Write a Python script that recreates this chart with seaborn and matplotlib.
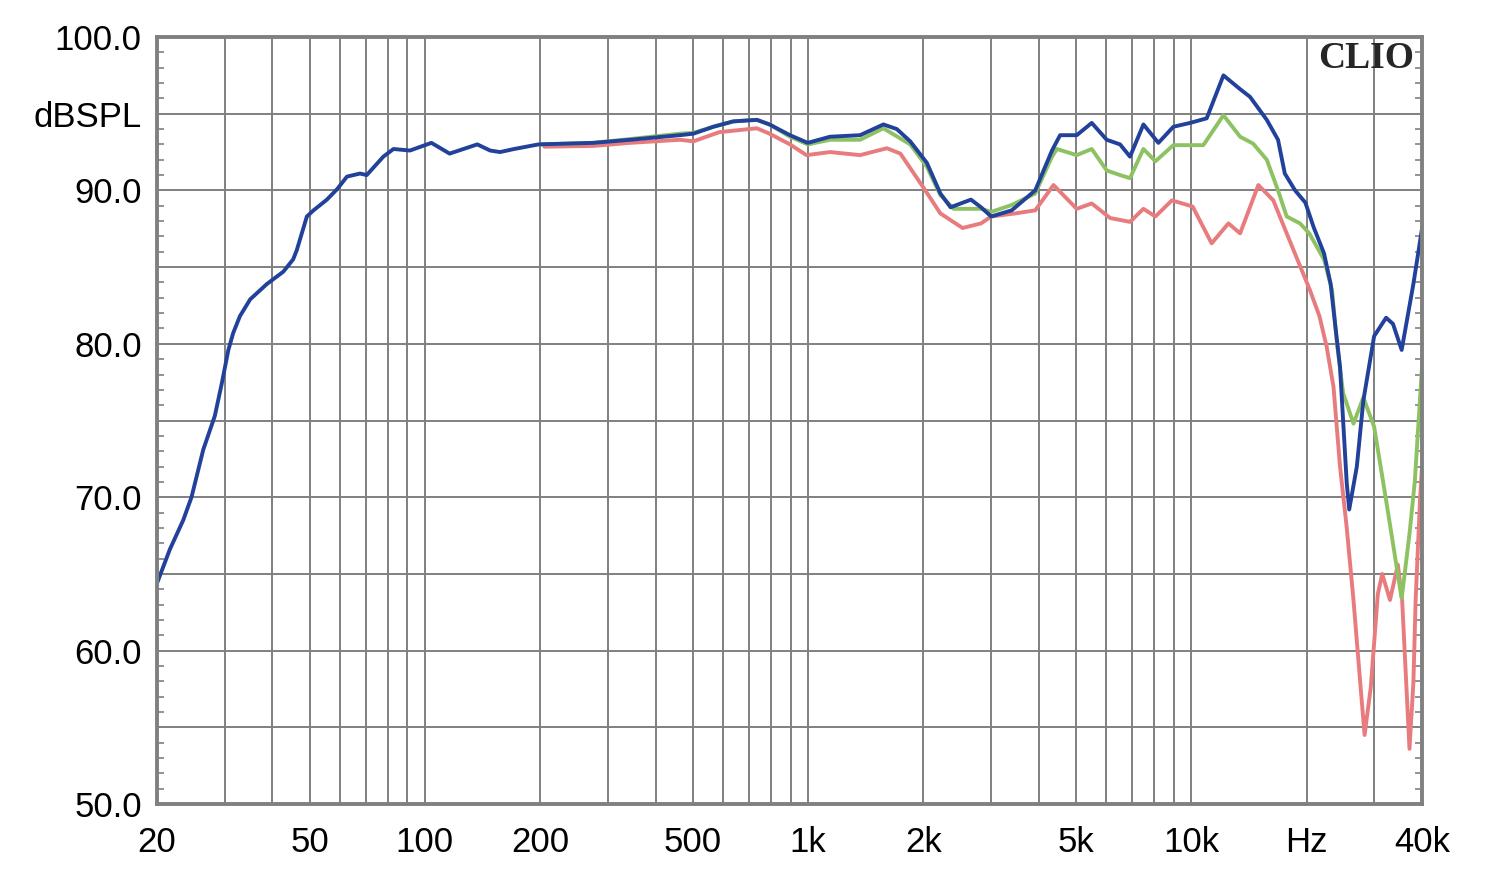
import numpy as np
import pandas as pd
import matplotlib
matplotlib.use("Agg")
import matplotlib.pyplot as plt
import seaborn as sns

# frequency response readings (Hz, dB SPL)
blue_freq = [20, 21.6, 23.4, 24.6, 26.4, 28.3, 29.5, 30.7, 31.6, 32.9, 35, 38.7, 42.7, 45.3,
             46.3, 49.2, 51.2, 55.5, 59.1, 62.6, 67.7, 70.5, 77.9, 82.8, 91.4, 104, 116, 137,
             148, 157, 171, 198, 275, 343, 463, 502, 566, 638, 735, 793, 897, 998, 1141, 1367,
             1572, 1704, 1847, 2041, 2214, 2354, 2661, 2827, 3005, 3399, 3915, 4330, 4546, 5024,
             5498, 6016, 6518, 6920, 7500, 8206, 8980, 9928, 10970, 12130, 13410, 14230, 15740,
             16840, 17540, 18660, 19850, 20860, 22200, 23100, 23800, 24440, 25450, 25830, 27040,
             28120, 30000, 32240, 33600, 35400, 37980, 40000]
blue_db = [64.4, 66.6, 68.5, 70.0, 73.1, 75.3, 77.4, 79.6, 80.7, 81.8, 82.9, 83.9, 84.7, 85.5,
           86.1, 88.3, 88.7, 89.4, 90.1, 90.9, 91.1, 91.0, 92.2, 92.7, 92.6, 93.1, 92.4, 93.0,
           92.6, 92.5, 92.7, 93.0, 93.1, 93.3, 93.6, 93.7, 94.15, 94.5, 94.6, 94.3, 93.6, 93.1,
           93.5, 93.6, 94.3, 94.0, 93.2, 91.8, 89.8, 88.9, 89.4, 88.9, 88.3, 88.7, 90.0, 92.6,
           93.6, 93.6, 94.4, 93.3, 93.0, 92.2, 94.3, 93.1, 94.15, 94.4, 94.7, 97.5, 96.6, 96.1,
           94.6, 93.3, 91.1, 90.0, 89.2, 87.6, 85.9, 83.9, 81.0, 78.5, 70.9, 69.2, 72.0, 76.3,
           80.5, 81.7, 81.3, 79.6, 83.9, 87.5]

green_freq = [200, 275, 343, 463, 502, 566, 638, 735, 793, 897, 998, 1141, 1367, 1572, 1847,
              2041, 2214, 2400, 2661, 2827, 3005, 3399, 3915, 4330, 4460, 5024, 5498, 6016,
              6518, 6920, 7500, 8060, 8980, 10750, 12130, 13410, 14500, 15740, 16840, 17740,
              19220, 20320, 22200, 23300, 24000, 24900, 26500, 28120, 30000, 32240, 35400,
              37100, 38300, 39200, 40000]
green_db = [93.0, 93.1, 93.35, 93.7, 93.75, 94.15, 94.5, 94.6, 94.3, 93.5, 93.0, 93.3, 93.3,
            94.05, 93.0, 91.55, 89.7, 88.8, 88.8, 88.8, 88.6, 89.05, 89.8, 92.2, 92.7, 92.3,
            92.7, 91.3, 91.0, 90.8, 92.7, 91.9, 92.95, 92.95, 94.9, 93.5, 93.05, 92.0, 90.0,
            88.3, 87.85, 87.2, 85.5, 83.5, 80.0, 76.8, 74.8, 76.5, 74.6, 69.8, 63.4, 67.6,
            71.0, 75.0, 78.5]

red_freq = [205, 275, 343, 463, 502, 587, 735, 793, 897, 990, 1141, 1367, 1605, 1741, 1998,
            2214, 2530, 2827, 3005, 3472, 3915, 4370, 5024, 5498, 6140, 6920, 7500, 8060, 8900,
            10080, 11300, 12500, 13410, 14960, 16370, 17740, 18950, 20400, 21600, 22560, 23500,
            24440, 25450, 26500, 27600, 28330, 29400, 30680, 31500, 33000, 34600, 35500, 36200,
            37100, 37980, 38500, 39520, 40000]
red_db = [92.85, 92.9, 93.1, 93.3, 93.2, 93.8, 94.05, 93.7, 93.0, 92.3, 92.5, 92.3, 92.75,
          92.4, 90.2, 88.5, 87.55, 87.85, 88.3, 88.5, 88.7, 90.35, 88.8, 89.15, 88.2, 87.95,
          88.8, 88.3, 89.35, 88.95, 86.55, 87.85, 87.2, 90.35, 89.35, 87.2, 85.45, 83.5, 81.8,
          79.8, 77.2, 72.0, 68.0, 63.3, 57.9, 54.5, 57.6, 63.7, 65.0, 63.3, 65.6, 63.3, 59.0,
          53.6, 57.9, 63.3, 69.8, 72.0]

x_grid = [20, 30, 40, 50, 60, 70, 80, 90, 100, 200, 300, 400, 500, 600, 700, 800, 900,
          1000, 2000, 3000, 4000, 5000, 6000, 7000, 8000, 9000, 10000, 20000, 30000, 40000]
x_labels = {20: "20", 50: "50", 100: "100", 200: "200", 500: "500", 1000: "1k",
            2000: "2k", 5000: "5k", 10000: "10k", 20000: "Hz", 40000: "40k"}
y_grid = [50, 55, 60, 65, 70, 75, 80, 85, 90, 95, 100]
y_labels = {50: "50.0", 60: "60.0", 70: "70.0", 80: "80.0", 90: "90.0", 95: "dBSPL", 100: "100.0"}

sns.set_style("white")
plt.rcParams["font.family"] = ["Liberation Sans", "DejaVu Sans"]

fig = plt.figure(figsize=(15, 8.77), dpi=100)
ax = fig.add_axes([0.1047, 0.0832, 0.8433, 0.8746])

grey = "#808080"
sns.lineplot(x=red_freq, y=red_db, ax=ax, color="#e87b7d", lw=2.8, sort=False, estimator=None)
sns.lineplot(x=green_freq, y=green_db, ax=ax, color="#8dc262", lw=2.8, sort=False, estimator=None)
sns.lineplot(x=blue_freq, y=blue_db, ax=ax, color="#22419a", lw=2.8, sort=False, estimator=None)

ax.set_xscale("log")
ax.set_xlim(20, 40000)
ax.set_ylim(50, 100)

ax.set_xticks(x_grid)
ax.set_xticklabels([x_labels.get(v, "") for v in x_grid])
ax.set_yticks(y_grid)
ax.set_yticklabels([y_labels.get(v, "") for v in y_grid])
ax.xaxis.set_minor_locator(matplotlib.ticker.NullLocator())
ax.yaxis.set_minor_locator(matplotlib.ticker.MultipleLocator(1))

ax.grid(True, which="major", color=grey, lw=1.4)
ax.tick_params(axis="both", which="major", length=0, labelsize=25, colors="black")
ax.tick_params(axis="x", which="major", pad=16)
ax.tick_params(axis="y", which="major", pad=11)
ax.tick_params(axis="y", which="minor", direction="in", length=5, width=1.2,
               color=grey, left=True, right=True)
for side in ax.spines.values():
    side.set_color(grey)
    side.set_linewidth(2.8)
    side.set_visible(True)
ax.set_xlabel("")
ax.set_ylabel("")

ax.text(0.994, 0.995, "CLIO", transform=ax.transAxes, ha="right", va="top",
        fontsize=27, fontweight="bold", family=["Liberation Serif", "DejaVu Serif"])

fig.savefig("out.png", dpi=100)
